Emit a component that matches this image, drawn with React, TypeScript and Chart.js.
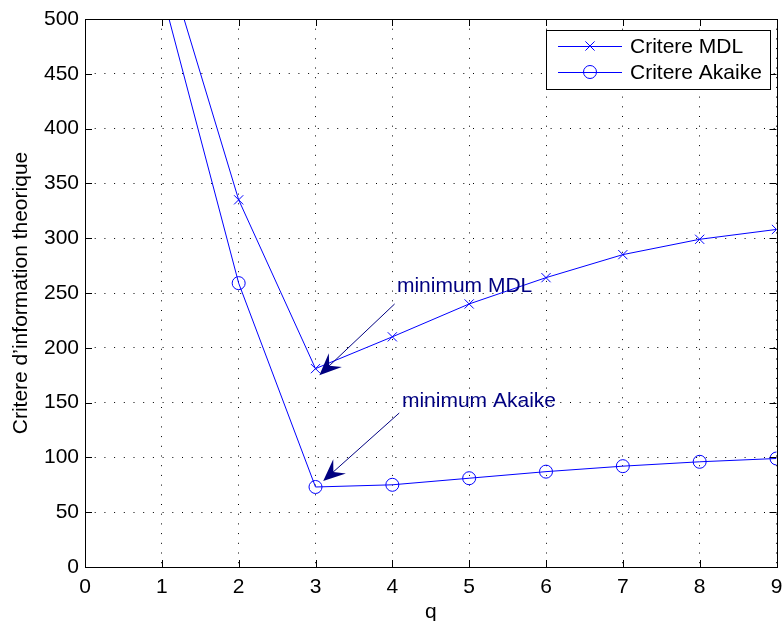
import React, { useEffect, useRef } from "react";
import { Chart, registerables } from "chart.js";

Chart.register(...registerables);

const qValues = [1, 2, 3, 4, 5, 6, 7, 8, 9];
const mdlValues = [567, 335, 181, 210, 240, 264, 285, 299, 308];
const akaikeValues = [525, 259, 73, 75, 81, 87, 92, 96, 99];
const seriesLabels = ["Critere MDL", "Critere Akaike"];
const xTicks = [0, 1, 2, 3, 4, 5, 6, 7, 8, 9];
const yTicks = [0, 50, 100, 150, 200, 250, 300, 350, 400, 450, 500];
const xTitle = "q";
const yTitle = "Critere d\u2019information theorique";

// annotation anchors in data coordinates (q, value)
const noteTexts = ["minimum MDL", "minimum Akaike"];
const noteTextAt = [[4.06, 251], [4.125, 146]];
const noteArrowFrom = [[4.03, 240], [4.09, 140.5]];
const noteArrowTo = [[3.05, 175], [3.1, 78.5]];

const FONT = '"Liberation Sans", Arial, Helvetica, sans-serif';
const FS = 21;
const BLUE = "#0000ff";
const NAVY = "#000080";

const framePlugin = {
  id: "frame",
  afterDatasetsDraw(chart: any) {
    const { ctx, chartArea, scales } = chart;
    const { left, right, top, bottom } = chartArea;
    const x = scales.x;
    const y = scales.y;
    ctx.save();
    ctx.strokeStyle = "#000";
    ctx.lineWidth = 1;
    ctx.beginPath();
    const T = 7;
    xTicks.forEach((v) => {
      const px = Math.round(x.getPixelForValue(v)) + 0.5;
      ctx.moveTo(px, bottom);
      ctx.lineTo(px, bottom - T);
      ctx.moveTo(px, top);
      ctx.lineTo(px, top + T);
    });
    yTicks.forEach((v) => {
      const py = Math.round(y.getPixelForValue(v)) + 0.5;
      ctx.moveTo(left, py);
      ctx.lineTo(left + T, py);
      ctx.moveTo(right, py);
      ctx.lineTo(right - T, py);
    });
    ctx.stroke();
    ctx.strokeRect(
      Math.round(left) + 0.5,
      Math.round(top) + 0.5,
      Math.round(right) - Math.round(left),
      Math.round(bottom) - Math.round(top)
    );

    // annotations
    ctx.fillStyle = NAVY;
    ctx.strokeStyle = NAVY;
    ctx.font = `${FS}px ${FONT}`;
    ctx.textAlign = "left";
    ctx.textBaseline = "alphabetic";
    noteTexts.forEach((t, i) => {
      const tx = x.getPixelForValue(noteTextAt[i][0]);
      const ty = y.getPixelForValue(noteTextAt[i][1]);
      ctx.fillText(t, tx, ty);
      const x0 = x.getPixelForValue(noteArrowFrom[i][0]);
      const y0 = y.getPixelForValue(noteArrowFrom[i][1]);
      const x1 = x.getPixelForValue(noteArrowTo[i][0]);
      const y1 = y.getPixelForValue(noteArrowTo[i][1]);
      const ang = Math.atan2(y1 - y0, x1 - x0);
      const L = 22;
      const W = 9.5;
      ctx.lineWidth = 1;
      ctx.beginPath();
      ctx.moveTo(x0, y0);
      ctx.lineTo(x1 - Math.cos(ang) * L * 0.6, y1 - Math.sin(ang) * L * 0.6);
      ctx.stroke();
      ctx.save();
      ctx.translate(x1, y1);
      ctx.rotate(ang);
      ctx.beginPath();
      ctx.moveTo(0, 0);
      ctx.lineTo(-L, W);
      ctx.lineTo(-L * 0.62, 0);
      ctx.lineTo(-L, -W);
      ctx.closePath();
      ctx.fill();
      ctx.restore();
    });
    ctx.restore();
  },
  afterDraw(chart: any) {
    const { ctx } = chart;
    const bx = 546.5, by = 30.5, bw = 224, bh = 59;
    ctx.save();
    ctx.fillStyle = "#fff";
    ctx.fillRect(bx, by, bw, bh);
    ctx.strokeStyle = "#000";
    ctx.lineWidth = 1;
    ctx.strokeRect(bx, by, bw, bh);
    ctx.font = `${FS}px ${FONT}`;
    ctx.textBaseline = "middle";
    ctx.textAlign = "left";
    chart.data.datasets.forEach((ds: any, i: number) => {
      const cy = 46 + i * 26;
      ctx.strokeStyle = ds.borderColor;
      ctx.lineWidth = 1;
      ctx.beginPath();
      ctx.moveTo(558, cy + 0.5);
      ctx.lineTo(622, cy + 0.5);
      ctx.stroke();
      ctx.beginPath();
      if (ds.pointStyle === "circle") {
        ctx.arc(590, cy, ds.pointRadius, 0, Math.PI * 2);
      } else {
        const o = ds.pointRadius * Math.SQRT1_2;
        ctx.moveTo(590 - o, cy - o);
        ctx.lineTo(590 + o, cy + o);
        ctx.moveTo(590 - o, cy + o);
        ctx.lineTo(590 + o, cy - o);
      }
      ctx.stroke();
      ctx.fillStyle = "#000";
      ctx.fillText(ds.label, 630, cy + 1);
    });
    ctx.restore();
  },
};

export default function App() {
  const ref = useRef<HTMLCanvasElement | null>(null);
  useEffect(() => {
    if (!ref.current) return;
    const chart = new Chart(ref.current, {
      type: "line",
      data: {
        datasets: [
          {
            label: seriesLabels[0],
            data: qValues.map((q, i) => ({ x: q, y: mdlValues[i] })),
            borderColor: BLUE,
            backgroundColor: "transparent",
            borderWidth: 1,
            pointStyle: "crossRot",
            pointRadius: 6.5,
            pointBorderColor: BLUE,
            pointBorderWidth: 1,
            tension: 0,
          },
          {
            label: seriesLabels[1],
            data: qValues.map((q, i) => ({ x: q, y: akaikeValues[i] })),
            borderColor: BLUE,
            backgroundColor: "transparent",
            borderWidth: 1,
            pointStyle: "circle",
            pointRadius: 6.5,
            pointBorderColor: BLUE,
            pointBackgroundColor: "transparent",
            pointBorderWidth: 1,
            tension: 0,
          },
        ],
      },
      options: {
        responsive: false,
        animation: false,
        devicePixelRatio: 1,
        layout: { padding: { top: 19, right: 3, left: 0, bottom: 0 } },
        plugins: { legend: { display: false }, tooltip: { enabled: false } },
        scales: {
          x: {
            type: "linear",
            min: 0,
            max: 9,
            afterBuildTicks: (s: any) => {
              s.ticks = xTicks.map((v) => ({ value: v }));
            },
            afterFit: (s: any) => {
              s.height = 54;
              s.paddingLeft = 0;
              s.paddingRight = 0;
            },
            ticks: {
              color: "#000",
              font: { family: FONT, size: FS },
              padding: 8,
              maxRotation: 0,
              autoSkip: false,
            },
            grid: { color: "#000", lineWidth: 1, drawTicks: false },
            border: { display: false, dash: [1, 8.7] },
            title: {
              display: true,
              text: xTitle,
              color: "#000",
              font: { family: FONT, size: FS },
              padding: { top: 0, bottom: -4 },
            },
          },
          y: {
            type: "linear",
            min: 0,
            max: 500,
            afterBuildTicks: (s: any) => {
              s.ticks = yTicks.map((v) => ({ value: v }));
            },
            afterFit: (s: any) => {
              s.width = 85;
              s.paddingTop = 0;
              s.paddingBottom = 0;
            },
            ticks: {
              color: "#000",
              font: { family: FONT, size: FS },
              padding: 6,
              autoSkip: false,
            },
            grid: { color: "#000", lineWidth: 1, drawTicks: false },
            border: { display: false, dash: [1, 8.7] },
            title: {
              display: true,
              text: yTitle,
              color: "#000",
              font: { family: FONT, size: FS },
              padding: { top: 9, bottom: 0 },
            },
          },
        },
      },
      plugins: [framePlugin],
    } as any);
    return () => chart.destroy();
  }, []);
  return (
    <div style={{ position: "fixed", left: 0, top: 0, width: 784, height: 621, background: "#fff" }}>
      <canvas ref={ref} width={784} height={621} style={{ display: "block", width: 784, height: 621 }} />
    </div>
  );
}
